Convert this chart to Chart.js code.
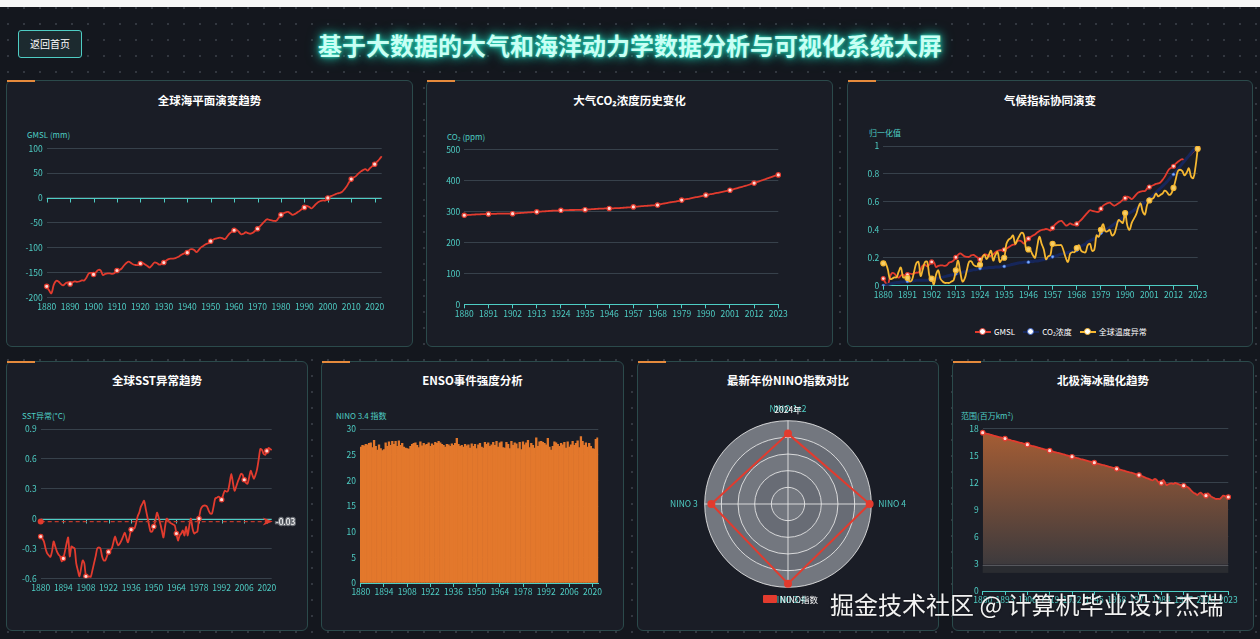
<!DOCTYPE html>
<html><head><meta charset="utf-8">
<script src="https://cdn.jsdelivr.net/npm/chart.js@4.4.1/dist/chart.umd.min.js"></script>
<style>
html,body{margin:0;padding:0;}
body{width:1260px;height:639px;overflow:hidden;position:relative;background-color:#14171e;
  background-image:radial-gradient(rgba(150,160,170,0.24) 0.9px, transparent 1.3px);background-size:16px 16px;
  font-family:'Noto Sans CJK SC','Noto Sans',sans-serif;}
.topbar{position:absolute;left:0;top:0;width:1260px;height:7px;background:#f6f6f6;}
.title{position:absolute;left:0;top:30px;width:1260px;text-align:center;font-size:24px;line-height:30px;font-weight:bold;color:#c9fff4;
  text-shadow:0 0 3px #2fe0c4,0 0 8px #1fcfb3,0 0 14px rgba(31,207,179,0.7);letter-spacing:0;}
.btn{position:absolute;left:18px;top:30px;width:64px;height:28px;box-sizing:border-box;border:1px solid #4ecdc4;border-radius:3px;background:#1c2a2f;color:#fff;font-size:10px;line-height:26px;text-align:center;}
.panel{position:absolute;background:#1a1d26;border:1px solid #2b4a4b;border-radius:6px;box-sizing:border-box;}
.acc{position:absolute;left:0;top:-1px;width:28px;height:2px;background:#e58a3c;}
.ptitle{position:absolute;left:0;right:0;text-align:center;color:#fff;font-weight:bold;font-size:11.5px;line-height:14px;}
.lbl{position:absolute;color:#4ecdc4;font-size:8px;line-height:10px;white-space:nowrap;}
.wlbl{position:absolute;color:#fff;font-size:8.5px;line-height:10px;white-space:nowrap;}
canvas{position:absolute;}
.legend{position:absolute;display:flex;align-items:center;gap:8px;color:#fff;font-size:8px;line-height:10px;}
.li{display:flex;align-items:center;gap:3px;}
.ic{position:relative;width:16px;height:8px;}
.ic .ln{position:absolute;left:0;top:3px;width:16px;height:2px;}
.ic .dt{position:absolute;left:4px;top:0;width:5px;height:5px;border-radius:50%;background:#fff;border:1.5px solid;}
.wm{position:absolute;left:830px;top:590px;font-size:24px;line-height:28px;color:#f2f2f2;white-space:nowrap;text-shadow:0 0 2px rgba(0,0,0,0.7);}
</style></head>
<body>
<div class="topbar"></div>
<div class="btn">返回首页</div>
<div class="title">基于大数据的大气和海洋动力学数据分析与可视化系统大屏</div>

<div class="panel" style="left:6px;top:80px;width:407px;height:267px"><div class="acc"></div><div class="ptitle" style="top:12px">全球海平面演变趋势</div></div>
<div class="panel" style="left:426px;top:80px;width:407px;height:267px"><div class="acc"></div><div class="ptitle" style="top:12px">大气CO₂浓度历史变化</div></div>
<div class="panel" style="left:847px;top:80px;width:406px;height:267px"><div class="acc"></div><div class="ptitle" style="top:12px">气候指标协同演变</div></div>
<div class="panel" style="left:6px;top:361px;width:302px;height:270px"><div class="acc"></div><div class="ptitle" style="top:11px">全球SST异常趋势</div></div>
<div class="panel" style="left:321px;top:361px;width:303px;height:270px"><div class="acc"></div><div class="ptitle" style="top:11px">ENSO事件强度分析</div></div>
<div class="panel" style="left:637px;top:361px;width:302px;height:270px"><div class="acc"></div><div class="ptitle" style="top:11px">最新年份NINO指数对比</div></div>
<div class="panel" style="left:952px;top:361px;width:302px;height:270px"><div class="acc"></div><div class="ptitle" style="top:11px">北极海冰融化趋势</div></div>

<div class="lbl" style="left:27px;top:130px">GMSL (mm)</div>
<div class="lbl" style="left:447px;top:132px">CO₂ (ppm)</div>
<div class="lbl" style="left:869px;top:128px">归一化值</div>
<div class="lbl" style="left:22px;top:411px">SST异常(°C)</div>
<div class="lbl" style="left:336px;top:411px">NINO 3.4 指数</div>
<div class="lbl" style="left:961px;top:411px">范围(百万km²)</div>

<div class="legend" style="left:975px;top:327px">
  <div class="li"><div class="ic"><div class="ln" style="background:#e23b2e"></div><div class="dt" style="border-color:#e23b2e"></div></div>GMSL</div>
  <div class="li"><div class="ic"><div class="ln" style="background:#16265a"></div><div class="dt" style="border-color:#3b63c9"></div></div>CO₂浓度</div>
  <div class="li"><div class="ic"><div class="ln" style="background:#f5b731"></div><div class="dt" style="border-color:#f5b731"></div></div>全球温度异常</div>
</div>

<script>
// ---------------- DATA ----------------
const YEARS = Array.from({length: 144}, (_, i) => String(1880 + i));

const GMSL = [
 -178,-186,-192,-175,-167,-168,-173,-176,-172,-170,
 -173,-170,-168,-169,-168,-166,-166,-160,-152,-151,
 -154,-150,-145,-146,-155,-153,-152,-152,-153,-151,
 -146,-145,-142,-136,-131,-128,-131,-134,-135,-135,
 -132,-131,-134,-137,-140,-135,-130,-131,-134,-133,
 -130,-126,-123,-122,-122,-121,-119,-116,-113,-111,
 -110,-104,-103,-105,-109,-104,-99,-96,-93,-91,
 -87,-84,-82,-81,-80,-81,-83,-78,-72,-68,
 -65,-64,-68,-73,-72,-69,-71,-72,-70,-66,
 -62,-57,-52,-47,-43,-44,-45,-46,-46,-40,
 -34,-31,-29,-28,-31,-34,-32,-29,-26,-22,
 -19,-16,-18,-21,-17,-12,-8,-6,-5,-5,
 0,3,5,7,9,10,12,17,23,31,
 38,41,44,49,53,56,58,55,60,64,
 68,73,78,84];

const CO2 = [
 288,288.5,289,289.5,290,290.5,291,291,291.5,291.5,
 292,292,292.5,292.5,292.5,293,293,293,293,293,
 293,293,293,294,294.5,295,295.5,296,296.5,297,
 297.5,298,298.5,299,299.5,300,300.5,301,301.5,302,
 302.5,303,303,303.5,304,304,304.5,304.5,305,305,
 305,305.5,305.5,305.5,306,306,306.5,307,307.5,308,
 308.5,309,309.5,309.5,310,310,310,310.5,310.5,311,
 311,311.5,312,312.5,313,313.5,314,315,315.5,316,
 317,317.5,318,318.5,319,319.5,320,320.5,321,323,
 325,326,327,329,330,331,332,333.5,335,337,
 338.5,340,341,342.5,344,345.5,347,348.5,350,351.5,
 353,354.5,356,357,358.5,360,361.5,363,364.5,366,
 367.5,369,371,373,375,377,379,381,383,385,
 387.5,390,392,394.5,397,399.5,402,404.5,407,409.5,
 412,414.5,416.5,418.5];

const TEMP_NORM = [
 0.16,0.16,0.12,0.05,0.05,0.06,0.06,0.10,0.13,0.06,
 0.06,0.055,0.03,0.04,0.10,0.16,0.17,0.07,0.12,0.17,
 0.17,0.07,0.05,0.01,0.08,0.11,0.05,0.03,0.02,0.02,
 0.02,0.03,0.04,0.11,0.18,0.10,0.03,0.05,0.11,0.17,
 0.175,0.15,0.14,0.14,0.15,0.20,0.22,0.19,0.22,0.25,
 0.18,0.22,0.24,0.17,0.19,0.20,0.30,0.33,0.34,0.36,
 0.30,0.33,0.36,0.38,0.36,0.26,0.26,0.25,0.22,0.20,
 0.28,0.35,0.30,0.26,0.19,0.21,0.22,0.30,0.29,0.29,
 0.29,0.29,0.25,0.20,0.17,0.23,0.24,0.24,0.27,0.29,
 0.25,0.24,0.24,0.29,0.30,0.25,0.26,0.36,0.35,0.40,
 0.44,0.39,0.39,0.40,0.36,0.37,0.42,0.47,0.46,0.45,
 0.52,0.43,0.40,0.45,0.48,0.51,0.56,0.59,0.53,0.51,
 0.58,0.61,0.62,0.63,0.66,0.64,0.65,0.66,0.68,0.67,
 0.65,0.66,0.70,0.76,0.82,0.83,0.82,0.79,0.81,0.84,
 0.78,0.77,0.85,0.98];

const SST = [
 -0.18,-0.20,-0.23,-0.30,-0.35,-0.37,-0.385,-0.33,-0.23,-0.28,
 -0.33,-0.36,-0.38,-0.43,-0.40,-0.33,-0.25,-0.19,-0.38,-0.28,
 -0.29,-0.30,-0.45,-0.52,-0.58,-0.50,-0.42,-0.45,-0.58,-0.585,
 -0.58,-0.585,-0.52,-0.45,-0.38,-0.30,-0.29,-0.30,-0.38,-0.42,
 -0.42,-0.38,-0.335,-0.32,-0.30,-0.24,-0.18,-0.23,-0.27,-0.25,
 -0.22,-0.18,-0.14,-0.19,-0.24,-0.18,-0.11,-0.09,-0.10,-0.05,
 0.02,0.06,0.12,0.15,0.18,0.10,0.02,-0.06,-0.13,-0.13,
 -0.08,-0.02,0.06,0.01,-0.05,-0.12,-0.19,-0.08,0.00,-0.02,
 -0.04,-0.05,-0.06,-0.07,-0.15,-0.22,-0.17,-0.15,-0.12,-0.17,
 -0.08,-0.17,-0.07,0.00,-0.10,-0.15,-0.14,-0.13,0.00,0.09,
 0.12,0.13,0.13,0.12,0.08,0.05,0.05,0.12,0.20,0.21,
 0.22,0.21,0.19,0.24,0.28,0.27,0.28,0.36,0.45,0.36,
 0.28,0.32,0.37,0.41,0.45,0.44,0.39,0.36,0.35,0.41,
 0.48,0.44,0.40,0.44,0.50,0.60,0.70,0.69,0.65,0.64,
 0.68,0.71,0.70,0.69];
const SST_MEAN = -0.03;

const NINO34 = [
 26.5,26.8,26.7,27.0,26.9,27.2,27.3,26.4,27.8,26.6,
 25.9,26.9,26.2,25.8,26.0,27.3,26.6,27.5,26.8,27.6,
 27.0,27.6,26.6,27.7,26.8,27.2,26.5,26.3,26.2,26.1,
 26.6,27.0,27.2,27.3,26.8,26.4,27.5,26.7,27.2,26.9,
 27.0,27.3,26.6,27.1,26.8,27.4,27.2,27.6,27.3,27.0,
 26.8,26.5,27.0,26.9,26.6,27.1,26.8,27.2,28.2,27.0,
 26.6,26.8,26.5,27.0,26.7,26.9,26.3,27.1,26.6,27.0,
 26.2,26.9,27.2,26.5,26.3,27.4,27.0,27.3,26.6,26.9,
 27.4,26.8,27.6,26.5,27.3,27.5,26.4,26.3,27.4,27.0,
 26.2,27.6,26.8,27.3,27.1,26.2,27.4,26.0,27.5,26.9,
 27.3,27.8,26.4,27.2,26.8,26.3,28.3,26.6,27.5,27.6,
 27.4,27.2,26.9,28.2,26.5,25.9,26.6,27.5,27.3,27.0,
 26.6,27.2,26.9,27.4,26.3,27.5,26.5,26.9,27.6,26.8,
 27.2,27.7,26.4,28.5,27.6,26.8,27.3,26.5,27.2,26.6,
 26.2,26.1,28.0,28.3];

const NINO_LABELS = ['NINO 1+2', 'NINO 4', 'NINO 3.4', 'NINO 3'];
const NINO_VALUES = [25.35, 29.4, 28.7, 27.6];
const NINO_MAX = 30;

const ICE = [
 17.52,17.47,17.42,17.37,17.32,17.27,17.21,17.16,17.11,17.06,
 17.01,16.96,16.91,16.86,16.81,16.76,16.71,16.65,16.60,16.55,
 16.50,16.45,16.40,16.35,16.30,16.24,16.19,16.14,16.09,16.04,
 15.99,15.94,15.89,15.84,15.78,15.73,15.68,15.63,15.58,15.53,
 15.48,15.43,15.37,15.32,15.27,15.22,15.17,15.12,15.07,15.01,
 14.96,14.91,14.86,14.81,14.76,14.71,14.66,14.60,14.55,14.50,
 14.45,14.40,14.35,14.30,14.25,14.20,14.14,14.09,14.04,13.99,
 13.94,13.89,13.84,13.78,13.73,13.68,13.63,13.58,13.52,13.47,
 13.42,13.37,13.32,13.27,13.21,13.16,13.11,13.06,13.01,12.93,
 12.88,12.83,12.78,12.70,12.60,12.52,12.45,12.38,12.30,12.25,
 12.39,12.35,12.10,12.00,11.95,12.28,12.05,11.73,11.80,11.88,
 11.91,11.85,11.95,11.90,11.82,11.75,11.68,11.65,11.60,11.54,
 11.40,11.20,11.00,10.85,10.75,10.62,10.80,10.88,10.70,10.55,
 10.55,10.80,10.65,10.44,10.35,10.25,10.18,10.20,10.18,10.35,
 10.55,10.50,10.42,10.40];

// label intervals (every n-th year shown)
const EVERY_GMSL = 10, EVERY_CO2 = 11, EVERY_SST = 14, EVERY_ICE = 13;

// ---------------- STYLE ----------------
const TEAL = '#4ecdc4', GRID = '#37414b', RED = '#e23b2e';
Chart.defaults.font.family = "'Noto Sans CJK SC','Noto Sans',sans-serif";
Chart.defaults.font.size = 8.5;
Chart.defaults.color = TEAL;
Chart.defaults.animation = false;

function makeCanvas(b) {
  const c = document.createElement('canvas');
  c.width = b.w; c.height = b.h;
  c.style.left = b.x + 'px'; c.style.top = b.y + 'px';
  document.body.appendChild(c);
  return c;
}

const zeroAxis = {
  id: 'zeroAxis',
  beforeDatasetsDraw(chart, args, o) {
    if (!o || !o.every) return;
    const {ctx, chartArea: {left, right}, scales: {x, y}} = chart;
    const yy = Math.round(y.getPixelForValue(0)) + 0.5;
    ctx.save();
    ctx.strokeStyle = TEAL; ctx.lineWidth = 1;
    ctx.beginPath(); ctx.moveTo(left, yy); ctx.lineTo(right, yy);
    const n = chart.data.labels.length;
    for (let i = 0; i < n; i += o.every) {
      const px = Math.round(x.getPixelForValue(i)) + 0.5;
      ctx.moveTo(px, yy); ctx.lineTo(px, yy + 4);
    }
    ctx.stroke(); ctx.restore();
  }
};

const meanLine = {
  id: 'meanLine',
  afterDatasetsDraw(chart, args, o) {
    if (!o || o.value === undefined) return;
    const {ctx, chartArea: {left, right}, scales: {y}} = chart;
    const yy = y.getPixelForValue(o.value);
    ctx.save();
    ctx.strokeStyle = '#c0392b'; ctx.lineWidth = 1.2; ctx.setLineDash([4, 3]);
    ctx.beginPath(); ctx.moveTo(left, yy); ctx.lineTo(right - 4, yy); ctx.stroke();
    ctx.setLineDash([]);
    ctx.fillStyle = '#e23b2e';
    ctx.beginPath(); ctx.moveTo(right + 1, yy); ctx.lineTo(right - 9, yy - 4); ctx.lineTo(right - 6, yy); ctx.lineTo(right - 9, yy + 4); ctx.closePath(); ctx.fill();
    ctx.beginPath(); ctx.arc(left, yy, 3, 0, Math.PI * 2); ctx.fill();
    ctx.font = "8.5px 'Noto Sans CJK SC'"; ctx.textBaseline = 'middle';
    ctx.lineWidth = 2.5; ctx.strokeStyle = '#6b6f76'; ctx.strokeText(o.label, right + 4, yy);
    ctx.fillStyle = '#fff'; ctx.fillText(o.label, right + 4, yy);
    ctx.restore();
  }
};

const band = {
  id: 'band',
  afterDatasetsDraw(chart, args, o) {
    if (!o || o.from === undefined) return;
    const {ctx, chartArea: {left, right}, scales: {y}} = chart;
    const y1 = y.getPixelForValue(o.from), y2 = y.getPixelForValue(o.to);
    ctx.save();
    ctx.fillStyle = '#2a2c31'; ctx.fillRect(left, y1, right - left, y2 - y1);
    ctx.strokeStyle = '#55575d'; ctx.lineWidth = 1;
    ctx.beginPath(); ctx.moveTo(left, Math.round(y1) + 0.5); ctx.lineTo(right, Math.round(y1) + 0.5); ctx.stroke();
    ctx.restore();
  }
};

const rings = {
  id: 'rings',
  beforeDraw(chart, args, o) {
    if (!o || !o.colors) return;
    const r = chart.scales.r, ctx = chart.ctx;
    const n = 5;
    ctx.save();
    for (let i = n; i >= 1; i--) {
      const rad = r.getDistanceFromCenterForValue(r.max * i / n);
      ctx.beginPath(); ctx.arc(r.xCenter, r.yCenter, rad, 0, Math.PI * 2);
      ctx.fillStyle = o.colors[(n - i) % 2]; ctx.fill();
    }
    ctx.restore();
  }
};

function cartesian(b, a, cfg) {
  const xh = b.y + b.h - a.b, yw = a.l - b.x;
  const bottom = !!cfg.bottomAxis;
  const yTicks = {stepSize: cfg.step, padding: 4, color: TEAL};
  if (cfg.yfmt) yTicks.callback = cfg.yfmt;
  return {
    responsive: false, animation: false,
    layout: {padding: {left: 0, top: a.t - b.y, right: b.x + b.w - a.r, bottom: 0}},
    plugins: Object.assign({legend: {display: false}, tooltip: {enabled: false}}, cfg.plugins || {}),
    scales: {
      x: {
        type: 'category', offset: !!cfg.offset,
        afterFit(s) { s.height = xh; },
        grid: bottom ? {display: true, offset: false, drawOnChartArea: false, drawTicks: true, tickLength: 4, color: TEAL}
                     : {display: false, drawTicks: false},
        border: bottom ? {display: true, color: TEAL} : {display: false},
        ticks: {
          autoSkip: false, maxRotation: 0, minRotation: 0, padding: bottom ? 0 : 4, color: TEAL,
          callback(v, i) { return i % cfg.every === 0 ? this.getLabelForValue(v) : null; }
        }
      },
      y: {
        min: cfg.ymin, max: cfg.ymax,
        afterFit(s) { s.width = yw; },
        grid: {color: GRID, drawTicks: false},
        border: {display: false},
        ticks: yTicks
      }
    }
  };
}

const markEvery = (n, r) => (ctx) => (ctx.dataIndex % n === 0 ? r : 0);
const fmt1 = (v) => String(+(+v).toFixed(1));

// ---------- Chart 1: GMSL ----------
{
  const b = {x: 8, y: 125, w: 398, h: 200};
  const a = {l: 46.7, t: 148.3, r: 381.7, b: 297.3};
  new Chart(makeCanvas(b), {
    type: 'line',
    data: {labels: YEARS, datasets: [{
      data: GMSL, borderColor: RED, borderWidth: 1.8, tension: 0.4, fill: false,
      pointRadius: markEvery(EVERY_GMSL, 2.2), pointBackgroundColor: '#ffd9d4', pointBorderColor: RED, pointBorderWidth: 1.2
    }]},
    options: cartesian(b, a, {ymin: -200, ymax: 100, step: 50, every: EVERY_GMSL, plugins: {zeroAxis: {every: EVERY_GMSL}}}),
    plugins: [zeroAxis]
  });
}

// ---------- Chart 2: CO2 ----------
{
  const b = {x: 428, y: 125, w: 400, h: 200};
  const a = {l: 464.3, t: 149.7, r: 778.3, b: 304.3};
  new Chart(makeCanvas(b), {
    type: 'line',
    data: {labels: YEARS, datasets: [{
      data: CO2, borderColor: RED, borderWidth: 1.8, tension: 0.4, fill: false,
      pointRadius: markEvery(EVERY_CO2, 2.2), pointBackgroundColor: '#ffd9d4', pointBorderColor: RED, pointBorderWidth: 1.2
    }]},
    options: cartesian(b, a, {ymin: 0, ymax: 500, step: 100, every: EVERY_CO2, bottomAxis: true})
  });
}

// ---------- Chart 3: normalized ----------
{
  const norm = (arr) => { const mn = Math.min(...arr), mx = Math.max(...arr); return arr.map(v => (v - mn) / (mx - mn)); };
  const b = {x: 849, y: 120, w: 400, h: 190};
  const a = {l: 883.3, t: 146, r: 1197.7, b: 285.7};
  new Chart(makeCanvas(b), {
    type: 'line',
    data: {labels: YEARS, datasets: [
      {label: 'GMSL', data: norm(GMSL), order: 2, borderColor: RED, borderWidth: 1.8, tension: 0.4, fill: false,
       pointRadius: markEvery(EVERY_CO2, 2), pointBackgroundColor: '#ffd9d4', pointBorderColor: RED, pointBorderWidth: 1.2},
      {label: 'CO₂浓度', data: norm(CO2), order: 1, borderColor: '#16265a', borderWidth: 3, tension: 0.4, fill: false,
       pointRadius: markEvery(EVERY_CO2, 1.4), pointBackgroundColor: '#7fb0ff', pointBorderColor: '#3f6fd8', pointBorderWidth: 0.6},
      {label: '全球温度异常', data: TEMP_NORM, order: 0, borderColor: '#f5b731', borderWidth: 1.8, tension: 0.4, fill: false,
       pointRadius: markEvery(EVERY_CO2, 2.5), pointBackgroundColor: '#f8cf6a', pointBorderColor: '#f5b731', pointBorderWidth: 1.2}
    ]},
    options: cartesian(b, a, {ymin: 0, ymax: 1, step: 0.2, every: EVERY_CO2, bottomAxis: true, yfmt: fmt1})
  });
}

// ---------- Chart 5: SST ----------
{
  const b = {x: 8, y: 410, w: 298, h: 195};
  const a = {l: 40.7, t: 429, r: 271.7, b: 578.3};
  new Chart(makeCanvas(b), {
    type: 'line',
    data: {labels: YEARS, datasets: [{
      data: SST, borderColor: RED, borderWidth: 1.8, tension: 0.25, fill: false,
      pointRadius: markEvery(EVERY_SST, 2.2), pointBackgroundColor: '#ffd9d4', pointBorderColor: RED, pointBorderWidth: 1.2
    }]},
    options: cartesian(b, a, {ymin: -0.6, ymax: 0.9, step: 0.3, every: EVERY_SST, yfmt: fmt1,
      plugins: {zeroAxis: {every: EVERY_SST}, meanLine: {value: SST_MEAN, label: String(SST_MEAN)}}}),
    plugins: [zeroAxis, meanLine]
  });
}

// ---------- Chart 6: ENSO ----------
{
  const b = {x: 323, y: 410, w: 298, h: 195};
  const a = {l: 360, t: 429, r: 598.3, b: 583};
  new Chart(makeCanvas(b), {
    type: 'bar',
    data: {labels: YEARS, datasets: [{
      data: NINO34, backgroundColor: '#e3782c', borderWidth: 0, barPercentage: 1, categoryPercentage: 1
    }]},
    options: cartesian(b, a, {ymin: 0, ymax: 30, step: 5, every: EVERY_SST, bottomAxis: true, offset: true})
  });
}

// ---------- Chart 7: Radar ----------
{
  const b = {x: 670, y: 379, w: 236, h: 250};
  new Chart(makeCanvas(b), {
    type: 'radar',
    data: {labels: NINO_LABELS, datasets: [{
      label: 'NINO指数', data: NINO_VALUES, borderColor: RED, borderWidth: 2, fill: false,
      pointRadius: 3, pointBackgroundColor: RED, pointBorderColor: RED
    }]},
    options: {
      responsive: false, animation: false,
      plugins: {legend: {display: false}, tooltip: {enabled: false}, rings: {colors: ['#73777f', '#686c75']}},
      scales: {r: {
        min: 0, max: NINO_MAX,
        ticks: {display: false, stepSize: NINO_MAX / 5},
        grid: {circular: true, color: 'rgba(235,235,235,0.85)', lineWidth: 1},
        angleLines: {color: 'rgba(235,235,235,0.85)'},
        pointLabels: {color: TEAL, font: {size: 8.5}, padding: 7}
      }}
    },
    plugins: [rings]
  });
}

// ---------- Chart 8: Ice ----------
{
  const b = {x: 954, y: 410, w: 298, h: 210};
  const a = {l: 982.7, t: 428.3, r: 1228.3, b: 591};
  new Chart(makeCanvas(b), {
    type: 'line',
    data: {labels: YEARS, datasets: [{
      data: ICE, borderColor: RED, borderWidth: 1.8, tension: 0.3,
      fill: {value: 2.9},
      backgroundColor: (c) => {
        const ch = c.chart; if (!ch.chartArea) return 'rgba(0,0,0,0)';
        const y = ch.scales.y;
        const g = ch.ctx.createLinearGradient(0, y.getPixelForValue(18), 0, y.getPixelForValue(2.9));
        g.addColorStop(0, '#a85e34'); g.addColorStop(1, '#3d3a3d');
        return g;
      },
      pointRadius: markEvery(EVERY_ICE, 2.2), pointBackgroundColor: '#ffd9d4', pointBorderColor: RED, pointBorderWidth: 1.2
    }]},
    options: cartesian(b, a, {ymin: 0, ymax: 18, step: 3, every: EVERY_ICE, bottomAxis: true,
      plugins: {band: {from: 2.9, to: 2.0}}}),
    plugins: [band]
  });
}
</script>

<div class="wlbl" style="left:770px;top:404px;width:36px;text-align:center">2024年</div>
<div style="position:absolute;left:763px;top:595px;width:14px;height:8px;background:#e23b2e;border-radius:1px"></div>
<div class="wlbl" style="left:780px;top:594px">NINO指数</div>
<div class="wm">掘金技术社区 @ 计算机毕业设计杰瑞</div>
</body></html>
